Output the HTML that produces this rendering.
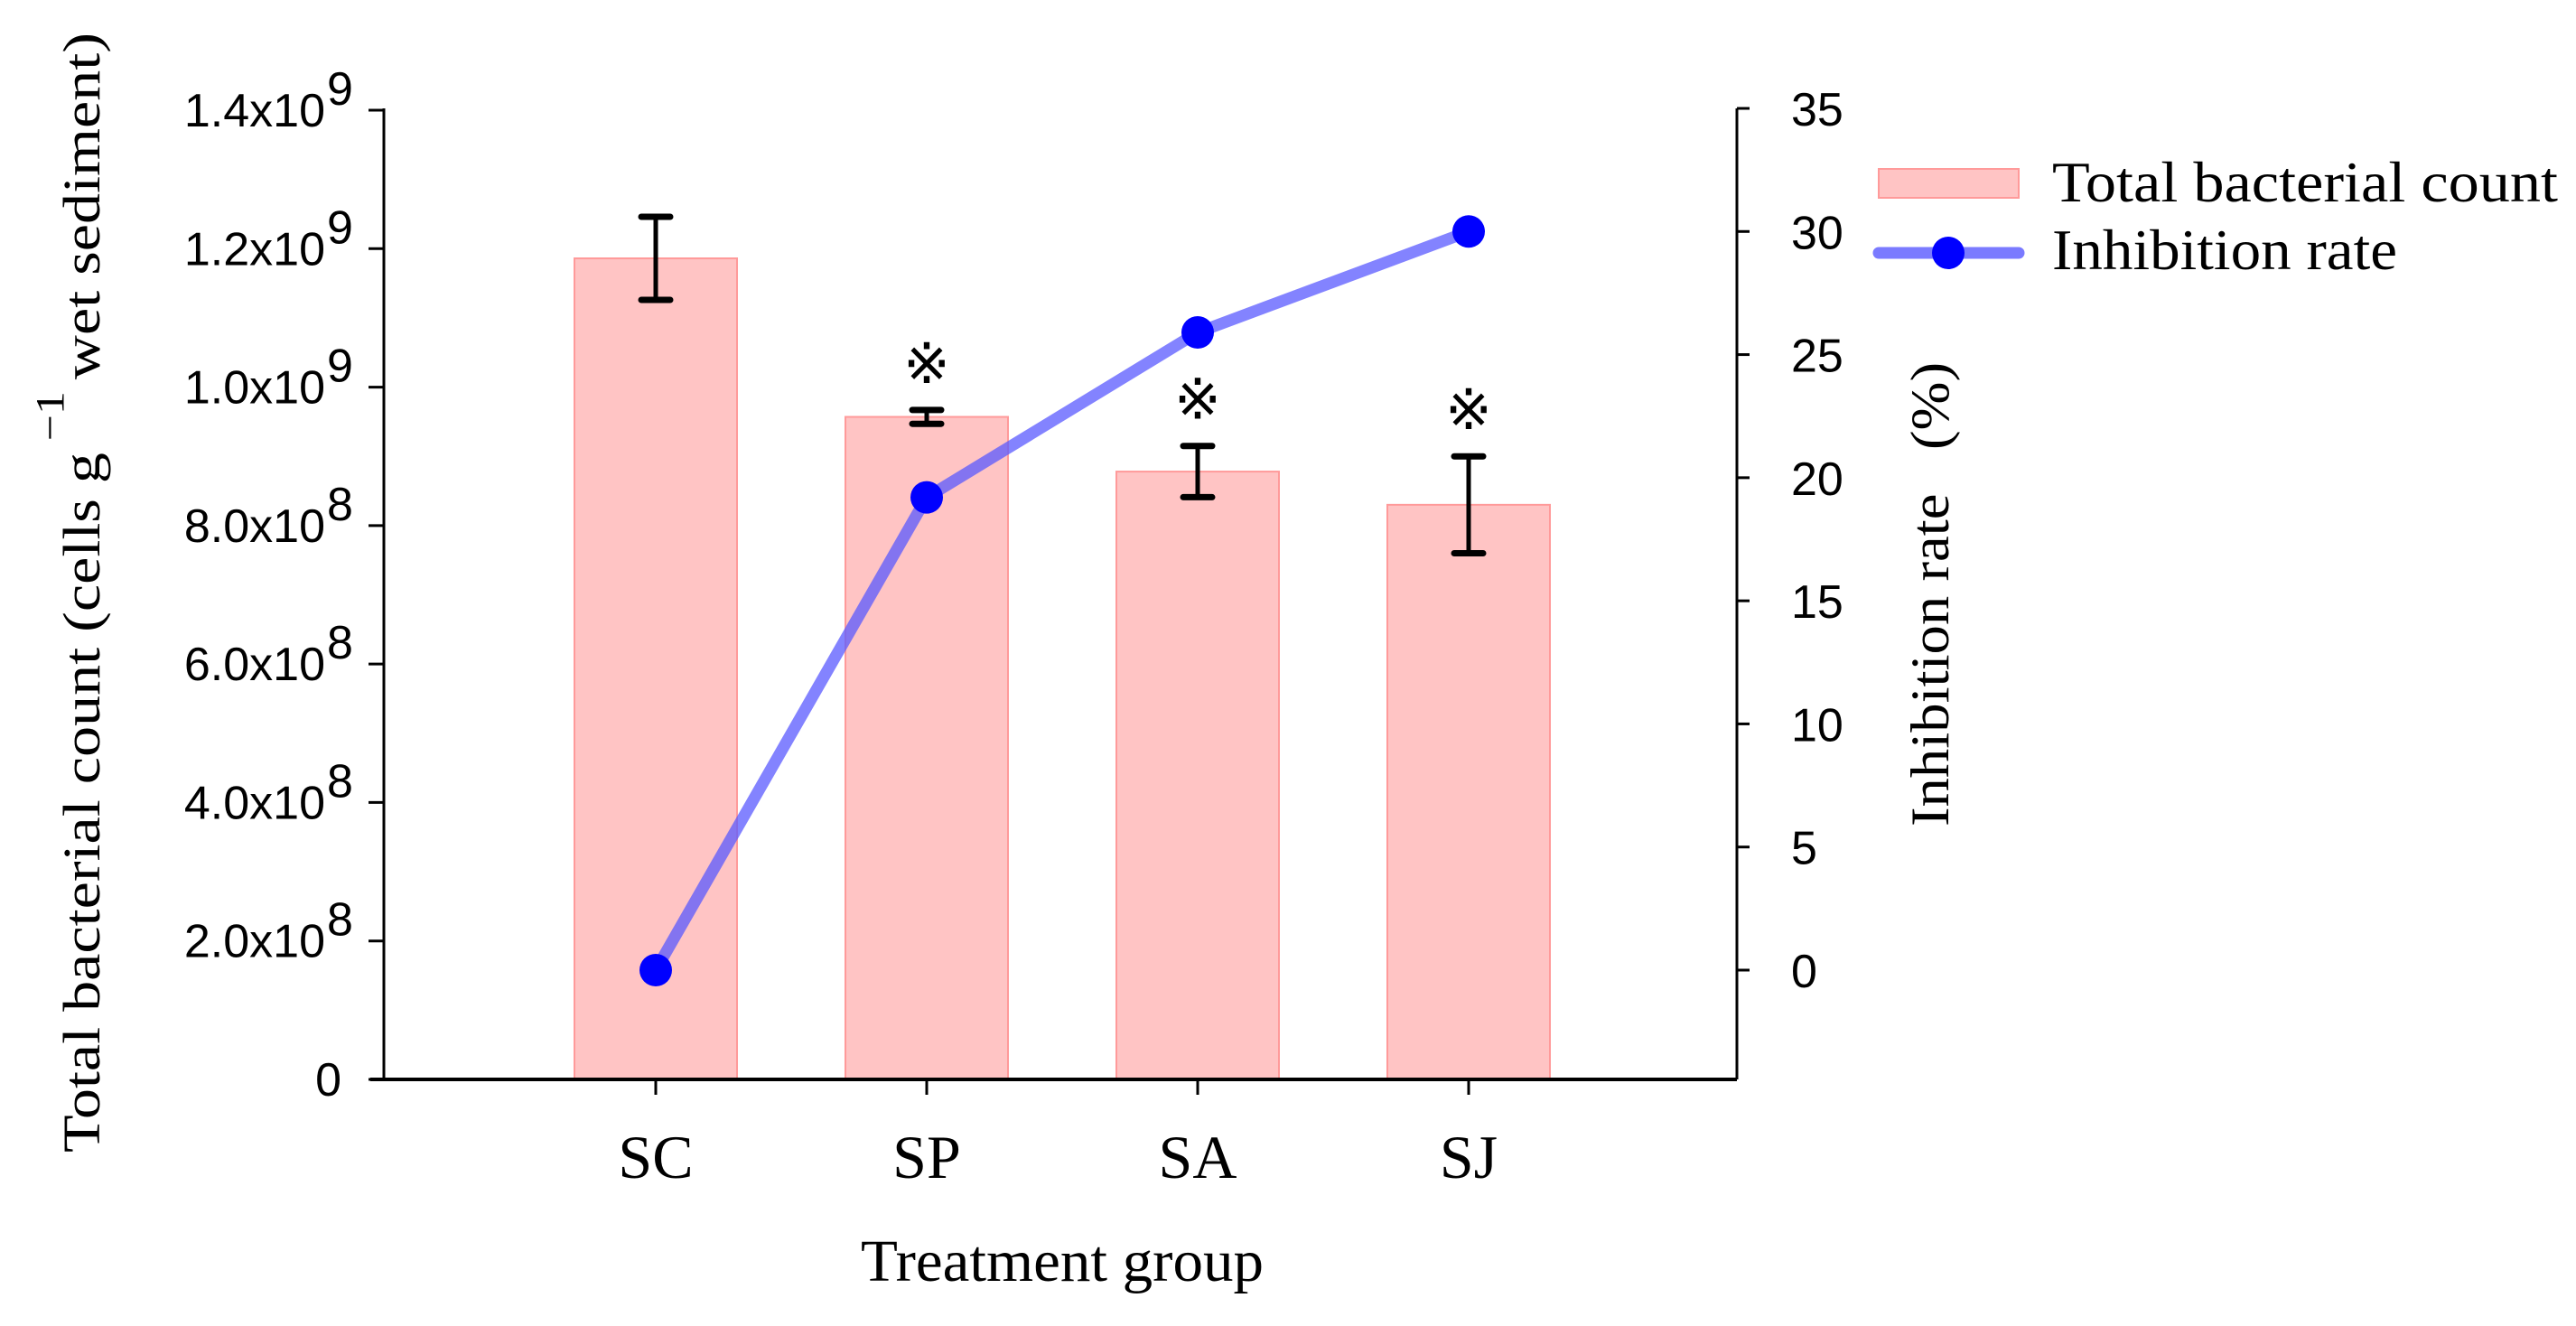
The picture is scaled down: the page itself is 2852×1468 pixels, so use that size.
<!DOCTYPE html>
<html><head><meta charset="utf-8">
<style>
html,body{margin:0;padding:0;background:#fff;}
svg{display:block;}
.tick{font-family:"Liberation Sans",Arial,sans-serif;font-size:52px;fill:#000;}
.ser{font-family:"Liberation Serif","Times New Roman",serif;fill:#000;}
</style></head>
<body>
<svg id="chart" width="2852" height="1468" viewBox="0 0 2852 1468" xmlns="http://www.w3.org/2000/svg">
<g id="plot"></g>
<text class="ser" x="1176" y="1418" font-size="66" text-anchor="middle" textLength="446" lengthAdjust="spacingAndGlyphs">Treatment group</text>
<text class="ser" transform="translate(110,1276) rotate(-90)" font-size="58" x="0" y="0" textLength="1240" lengthAdjust="spacingAndGlyphs">Total bacterial count (cells g<tspan dy="-40" font-size="44"> −1 </tspan><tspan dy="40"> wet sediment)</tspan></text>
<text class="ser" transform="translate(2157,915) rotate(-90)" font-size="60" x="0" y="0" textLength="514" lengthAdjust="spacingAndGlyphs" xml:space="preserve">Inhibition rate   (%)</text>
<g>
  <rect x="2080" y="187" width="155" height="32" fill="#ffc4c4" stroke="#ff9a9a" stroke-width="2"/>
  <text class="ser" x="2272" y="223" font-size="64" textLength="560" lengthAdjust="spacingAndGlyphs">Total bacterial count</text>
  <line x1="2080" y1="280" x2="2235" y2="280" stroke="#7a7aff" stroke-width="13" stroke-linecap="round"/>
  <circle cx="2157" cy="280" r="18" fill="#0000ff"/>
  <text class="ser" x="2272" y="298" font-size="64" textLength="382" lengthAdjust="spacingAndGlyphs">Inhibition rate</text>
</g>
</svg>
<script>
const categories = ["SC","SP","SA","SJ"];
const counts = [1.186e9, 0.957e9, 0.878e9, 0.830e9];
const countErr = [0.06e9, 0.01e9, 0.037e9, 0.07e9];
const inhibition = [0, 19.2, 25.9, 30];
const significant = [false, true, true, true];
const leftTicks = [0, 2e8, 4e8, 6e8, 8e8, 1.0e9, 1.2e9, 1.4e9];
const leftTickMant = ["0","2.0","4.0","6.0","8.0","1.0","1.2","1.4"];
const leftTickExp = ["","8","8","8","8","9","9","9"];
const rightTicks = [0,5,10,15,20,25,30,35];

const NS = "http://www.w3.org/2000/svg";
const g = document.getElementById("plot");
const xL = 425, xR = 1923, yB = 1195;
const yLeft = v => yB - v / 1.4e9 * (1195 - 122);
const yRight = v => 1074 - v / 35 * (1074 - 120);
const xC = i => 726 + i * 300;
const barW = 180;
function mk(tag, attrs, parent) {
  const e = document.createElementNS(NS, tag);
  for (const k in attrs) e.setAttribute(k, attrs[k]);
  (parent || g).appendChild(e);
  return e;
}
categories.forEach((c, i) => {
  const r = mk("rect", {x: xC(i) - barW/2, y: yLeft(counts[i]), width: barW, height: yB - yLeft(counts[i]), fill: "#ffc4c4", stroke: "#ff9a9a", "stroke-width": 2});
  
  
});
categories.forEach((c, i) => {
  const t = yLeft(counts[i] + countErr[i]), b = yLeft(counts[i] - countErr[i]);
  const eg = mk("g", {stroke: "#000", "stroke-width": 5, "stroke-linecap": "round"});
  
  
  mk("line", {x1: xC(i), y1: t, x2: xC(i), y2: b}, eg);
  mk("line", {x1: xC(i) - 16, y1: t, x2: xC(i) + 16, y2: t, "stroke-width": 7}, eg);
  mk("line", {x1: xC(i) - 16, y1: b, x2: xC(i) + 16, y2: b, "stroke-width": 7}, eg);
  if (significant[i]) {
    const top = Math.min(t, yLeft(counts[i]));
    const s = mk("text", {x: xC(i), y: top - 30, "text-anchor": "middle", "font-size": 62, "font-family": "'DejaVu Sans','Noto Sans CJK JP',sans-serif", fill: "#000"});
    s.textContent = "※";
    
    
  }
});
const ax = mk("g", {stroke: "#000", "stroke-width": 3});


mk("line", {x1: xL, y1: 120, x2: xL, y2: yB}, ax);
mk("line", {x1: xR, y1: 120, x2: xR, y2: yB}, ax);
mk("line", {x1: 410, y1: yB, x2: xR, y2: yB, "stroke-width": 4}, ax);
leftTicks.forEach((v, i) => {
  const y = yLeft(v);
  mk("line", {x1: 408, y1: y, x2: xL, y2: y}, ax);
  const t = mk("text", {x: leftTickExp[i] ? 360 : 378, y: y + 18, "text-anchor": "end", class: "tick"});
  t.textContent = leftTickMant[i] + (leftTickExp[i] ? "x10" : "");
  
  
  if (leftTickExp[i]) {
    const s = mk("text", {x: 362, y: y - 6, class: "tick", "font-size": 30});
    s.textContent = leftTickExp[i];
    
    
  }
});
rightTicks.forEach(v => {
  const y = yRight(v);
  mk("line", {x1: xR, y1: y, x2: 1937, y2: y}, ax);
  const t = mk("text", {x: 1983, y: y + 19, class: "tick"});
  t.textContent = String(v);
  
  
});
categories.forEach((c, i) => {
  mk("line", {x1: xC(i), y1: yB, x2: xC(i), y2: 1212}, ax);
  const t = mk("text", {x: xC(i), y: 1304, "text-anchor": "middle", class: "ser", "font-size": 68});
  t.textContent = c;
  
  
});
const pts = inhibition.map((v, i) => xC(i) + "," + yRight(v)).join(" ");
const pl = mk("polyline", {points: pts, fill: "none", stroke: "#5a5aff", "stroke-opacity": 0.75, "stroke-width": 13, "stroke-linejoin": "round"});


inhibition.forEach((v, i) => {
  const c = mk("circle", {cx: xC(i), cy: yRight(v), r: 18, fill: "#0000ff"});
  
  
});
</script>
</body></html>
